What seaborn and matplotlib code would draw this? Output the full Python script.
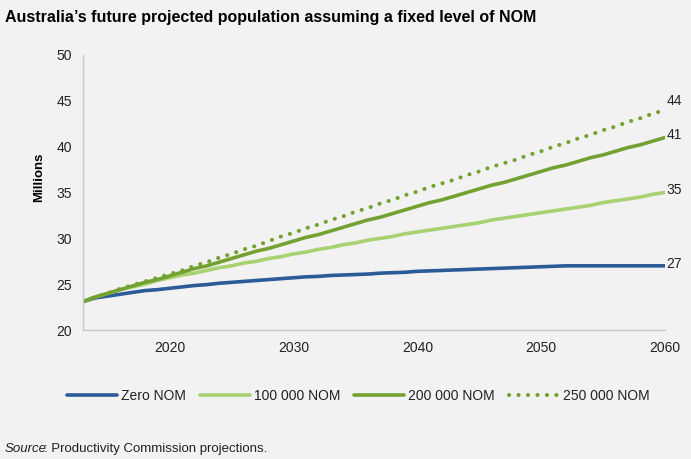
import matplotlib
matplotlib.use("Agg")
import matplotlib.pyplot as plt
import seaborn as sns
import pandas as pd
from matplotlib.ticker import FixedLocator
from matplotlib import font_manager

years = list(range(2013, 2061))

zero_nom = [23.1, 23.5, 23.7, 23.9, 24.1, 24.3, 24.4, 24.55, 24.7, 24.85,
            24.95, 25.1, 25.2, 25.3, 25.4, 25.5, 25.6, 25.7, 25.8, 25.85,
            25.95, 26.0, 26.05, 26.1, 26.2, 26.25, 26.3, 26.4, 26.45, 26.5,
            26.55, 26.6, 26.65, 26.7, 26.75, 26.8, 26.85, 26.9, 26.95, 27.0,
            27.0, 27.0, 27.0, 27.0, 27.0, 27.0, 27.0, 27.0]

nom_100k = [23.1, 23.6, 24.0, 24.4, 24.7, 25.0, 25.4, 25.7, 26.0, 26.2,
            26.5, 26.8, 27.0, 27.3, 27.5, 27.8, 28.0, 28.3, 28.5, 28.8,
            29.0, 29.3, 29.5, 29.8, 30.0, 30.2, 30.5, 30.7, 30.9, 31.1,
            31.3, 31.5, 31.7, 32.0, 32.2, 32.4, 32.6, 32.8, 33.0, 33.2,
            33.4, 33.6, 33.9, 34.1, 34.3, 34.5, 34.8, 35.0]

nom_200k = [23.1, 23.6, 24.0, 24.4, 24.8, 25.2, 25.5, 25.9, 26.3, 26.7,
            27.0, 27.4, 27.8, 28.2, 28.6, 28.9, 29.3, 29.7, 30.1, 30.4,
            30.8, 31.2, 31.6, 32.0, 32.3, 32.7, 33.1, 33.5, 33.9, 34.2,
            34.6, 35.0, 35.4, 35.8, 36.1, 36.5, 36.9, 37.3, 37.7, 38.0,
            38.4, 38.8, 39.1, 39.5, 39.9, 40.2, 40.6, 41.0]

nom_250k = [23.1, 23.6, 24.0, 24.5, 24.9, 25.3, 25.7, 26.1, 26.5, 27.0,
            27.4, 27.9, 28.3, 28.8, 29.2, 29.7, 30.2, 30.6, 31.1, 31.5,
            32.0, 32.4, 32.9, 33.3, 33.8, 34.2, 34.7, 35.1, 35.6, 36.0,
            36.4, 36.9, 37.3, 37.8, 38.2, 38.6, 39.1, 39.5, 40.0, 40.4,
            40.9, 41.3, 41.8, 42.2, 42.7, 43.1, 43.6, 44.0]

series_names = ["Zero NOM", "100 000 NOM", "200 000 NOM", "250 000 NOM"]
series_values = [zero_nom, nom_100k, nom_200k, nom_250k]
end_labels = ["27", "35", "41", "44"]
x_tick_labels = ["2020", "2030", "2040", "2050", "2060"]
y_ticks = [20, 25, 30, 35, 40, 45, 50]

colors = ["#2b5c98", "#a8d272", "#74a232", "#74a232"]

bg = "#f2f2f2"
sns.set_theme(style="white")
plt.rcParams["font.family"] = ["Liberation Sans", "DejaVu Sans"]

installed = {f.name for f in font_manager.fontManager.ttflist}
title_family = ["Liberation Sans Narrow", "Liberation Sans"] if "Liberation Sans Narrow" in installed else ["Liberation Sans"]
title_size = 14 if "Liberation Sans Narrow" in installed else 11.5

fig = plt.figure(figsize=(6.91, 4.59), dpi=100, facecolor=bg)
ax = fig.add_axes([83 / 691, 1 - 330 / 459, (665 - 83) / 691, (330 - 55) / 459])
ax.set_facecolor(bg)

df = pd.DataFrame({"Year": years * 4,
                   "Value": sum(series_values, []),
                   "Series": sum([[n] * len(years) for n in series_names], [])})

for i, name in enumerate(series_names):
    sub = df[df["Series"] == name]
    sns.lineplot(data=sub, x="Year", y="Value", ax=ax, color=colors[i],
                 lw=2.6, label=name)
    if i == 3:
        line = ax.lines[-1]
        line.set_dashes([0.05, 2.3])
        line.set_dash_capstyle("round")
        line.set_linewidth(2.9)
    ax.text(years[-1] + 0.1, series_values[i][-1] + 0.25, end_labels[i],
            fontsize=10, color="#222222", ha="left", va="bottom" if i == 3 else "center")

ax.set_xlim(2013, 2060)
ax.set_ylim(20, 50)
ax.set_yticks(y_ticks)
ax.set_yticklabels([str(v) for v in y_ticks], fontsize=10, color="#222222")
ax.set_xticks([int(s) for s in x_tick_labels])
ax.set_xticklabels(x_tick_labels, fontsize=10, color="#222222")
ax.xaxis.set_minor_locator(FixedLocator([2023.1, 2033.1, 2043.1, 2053.1]))
ax.tick_params(axis="x", which="major", length=0, pad=8)
ax.tick_params(axis="x", which="minor", length=3, color="#bfbfbf", width=1, direction="out")
ax.tick_params(axis="y", length=4, color="#bfbfbf", width=1, direction="out", pad=4)
ax.set_xlabel("")
ax.set_ylabel("Millions", fontsize=9.5, fontweight="bold", color="#000000")
ax.yaxis.set_label_coords((45 - 83) / 582, (330 - 177) / 275)
for s in ["top", "right"]:
    ax.spines[s].set_visible(False)
for s in ["left", "bottom"]:
    ax.spines[s].set_color("#c8c8c8")
    ax.spines[s].set_linewidth(1)
ax.grid(False)

leg = ax.legend(loc="center", bbox_to_anchor=(358 / 691, 1 - 396 / 459),
                bbox_transform=fig.transFigure, ncol=4, frameon=False,
                fontsize=10, handlelength=3.6, handletextpad=0.3,
                columnspacing=1.0, borderaxespad=0)
for t in leg.get_texts():
    t.set_color("#222222")

fig.text(5 / 691, 1 - 22 / 459, "Australia\u2019s future projected population assuming a fixed level of NOM",
         fontsize=title_size, fontweight="bold", color="#000000", ha="left", va="baseline",
         family=title_family)
src = fig.text(5 / 691, 1 - 452 / 459, "Source", fontsize=9.5, style="italic",
               color="#222222", ha="left", va="baseline")
fig.canvas.draw()
bb = src.get_window_extent(renderer=fig.canvas.get_renderer())
fig.text((bb.x1 - 2.5) / 691, 1 - 452 / 459, ": Productivity Commission projections.", fontsize=9.5,
         color="#222222", ha="left", va="baseline")

fig.savefig("out.png", dpi=100, facecolor=bg)
